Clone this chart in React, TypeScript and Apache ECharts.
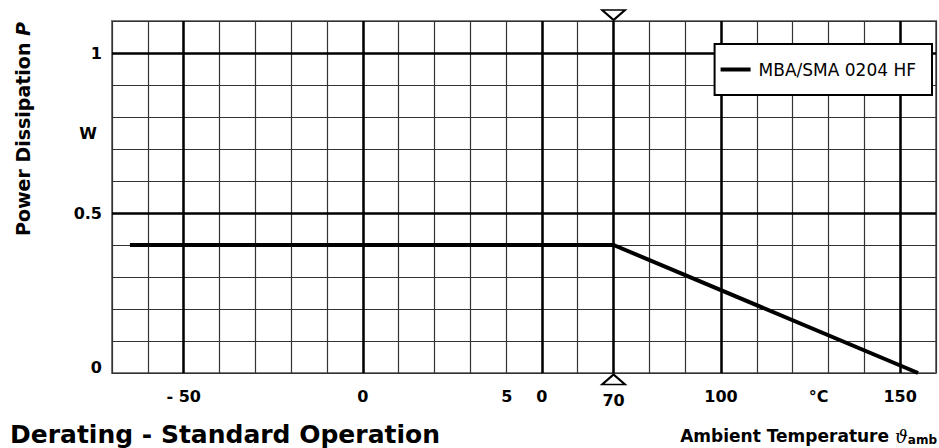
import React, { useEffect, useRef } from "react";
import * as echarts from "echarts";

// ---- data ----
const temperature = [-65, 70, 155];
const powerW = [0.4, 0.4, 0];
const seriesName = "MBA/SMA 0204 HF";

const xMin = -70;
const xMax = 160;
const xStep = 10;
const yMin = 0;
const yMax = 1.1;
const yStep = 0.1;

const xMajor = [-50, 0, 50, 70, 100, 150];
const yMajor = [0.5, 1];

const xLabelValues = [-50, 0, 50, 70, 100, 130, 150];
const xLabelTexts = ["- 50", "0", "5 0", "70", "100", "°C", "150"];
const yLabelValues = [0, 0.5, 0.8, 1];
const yLabelTexts = ["0", "0.5", "W", "1"];

const ratedTemp = [70];

const FONT = "DejaVu Sans";

export default function App() {
  const ref = useRef<HTMLDivElement>(null);
  useEffect(() => {
    if (!ref.current) return;
    const chart = echarts.init(ref.current, undefined, { renderer: "svg" });
    const lblBase = { fontFamily: FONT, fontWeight: "bold", fontSize: 16, color: "#000" };
    const option: any = {
      animation: false,
      backgroundColor: "#fff",
      grid: {
        left: 112,
        right: 2,
        top: 21,
        bottom: 75,
        show: true,
        borderColor: "#7a7a7a",
        borderWidth: 2,
      },
      legend: {
        data: [seriesName],
        right: 7,
        top: 44,
        z: 20,
        borderColor: "#000",
        borderWidth: 2,
        backgroundColor: "#fff",
        padding: [17, 16, 17, 6],
        itemWidth: 30,
        itemHeight: 4,
        icon: "rect",
        textStyle: { fontFamily: FONT, fontSize: 17, color: "#000", padding: [0, 0, 0, 3] },
      },
      xAxis: {
        type: "value",
        min: xMin,
        max: xMax,
        interval: xStep,
        axisLine: { show: false },
        axisTick: { show: false },
        splitLine: { show: true, lineStyle: { color: "#333", width: 1.2 } },
        axisLabel: {
          margin: 15,
          ...lblBase,
          formatter: (v: number) => {
            const i = xLabelValues.indexOf(Math.round(v));
            if (i < 0) return "";
            const t = xLabelTexts[i];
            if (t === "5 0") return "{a|5}{g| }{b|0}{h| }";
            if (t === "°C") return "{c|°C}{r| }";
            if (t === "70") return "{s|70}";
            return t;
          },
          rich: {
            a: { ...lblBase, width: 11, align: "center" },
            g: { ...lblBase, width: 24 },
            b: { ...lblBase, width: 11, align: "center" },
            h: { ...lblBase, width: 35 },
            c: { ...lblBase, width: 20, align: "center" },
            r: { ...lblBase, width: 20 },
            s: { ...lblBase, padding: [4, 0, 0, 0] },
          },
        },
      },
      yAxis: {
        type: "value",
        min: yMin,
        max: yMax,
        interval: yStep,
        axisLine: { show: false },
        axisTick: { show: false },
        splitLine: { show: true, lineStyle: { color: "#333", width: 1.2 } },
        axisLabel: {
          margin: 10,
          ...lblBase,
          formatter: (v: number) => {
            const i = yLabelValues.findIndex((y) => Math.abs(y - v) < 1e-6);
            if (i < 0) return "";
            const t = yLabelTexts[i];
            if (t === "0") return "{z|0}";
            if (t === "W") return "{w|W}";
            return t;
          },
          rich: {
            z: { ...lblBase, padding: [0, 0, 12, 0] },
            w: { ...lblBase, padding: [32, 5, 0, 0] },
          },
        },
      },
      series: [
        {
          name: seriesName,
          type: "line",
          data: temperature.map((t, i) => [t, powerW[i]]),
          symbol: "none",
          itemStyle: { color: "#000" },
          lineStyle: { color: "#000", width: 4 },
          z: 5,
          markLine: {
            silent: true,
            symbol: ["none", "none"],
            label: { show: false },
            lineStyle: { color: "#000", width: 2.5, type: "solid" },
            data: [
              ...xMajor.map((v) => ({ xAxis: v })),
              ...yMajor.map((v) => ({ yAxis: v })),
            ],
          },
        },
        {
          name: "rated-bottom",
          type: "scatter",
          data: ratedTemp.map((t) => [t, yMin]),
          symbol: "triangle",
          symbolSize: [23, 10],
          symbolOffset: [0, 6.5],
          clip: false,
          silent: true,
          z: 6,
          itemStyle: { color: "#fff", borderColor: "#000", borderWidth: 2, opacity: 1 },
        },
        {
          name: "rated-top",
          type: "scatter",
          data: ratedTemp.map((t) => [t, yMax]),
          symbol: "triangle",
          symbolRotate: 180,
          symbolSize: [23, 10],
          symbolOffset: [0, -6],
          clip: false,
          silent: true,
          z: 6,
          itemStyle: { color: "#fff", borderColor: "#000", borderWidth: 2, opacity: 1 },
        },
      ],
      graphic: [
        {
          type: "text",
          x: 23,
          y: 129,
          rotation: Math.PI / 2,
          style: {
            text: "{a|Power Dissipation }{p|P}",
            align: "center",
            verticalAlign: "middle",
            rich: {
              a: { fontFamily: FONT, fontWeight: "bold", fontSize: 19, fill: "#000" },
              p: { fontFamily: FONT, fontWeight: "bold", fontStyle: "italic", fontSize: 19, fill: "#000" },
            },
          },
        },
        {
          type: "text",
          x: 10,
          y: 434,
          style: {
            text: "Derating - Standard Operation",
            font: 'bold 25px "DejaVu Sans"',
            fill: "#000",
            align: "left",
            verticalAlign: "middle",
          },
        },
        {
          type: "text",
          x: 937,
          y: 436,
          style: {
            text: "{a|Ambient Temperature }{t|ϑ}{s|amb}",
            align: "right",
            verticalAlign: "middle",
            rich: {
              a: { fontFamily: FONT, fontWeight: "bold", fontSize: 17, fill: "#000" },
              t: { fontFamily: "DejaVu Serif", fontStyle: "italic", fontSize: 18, fill: "#000" },
              s: { fontFamily: FONT, fontWeight: "bold", fontSize: 12, fill: "#000", padding: [7, 0, 0, 0] },
            },
          },
        },
      ],
    };
    chart.setOption(option);
    return () => chart.dispose();
  }, []);
  return (
    <div
      ref={ref}
      style={{ position: "fixed", left: 0, top: 0, width: 939, height: 448 }}
    />
  );
}
